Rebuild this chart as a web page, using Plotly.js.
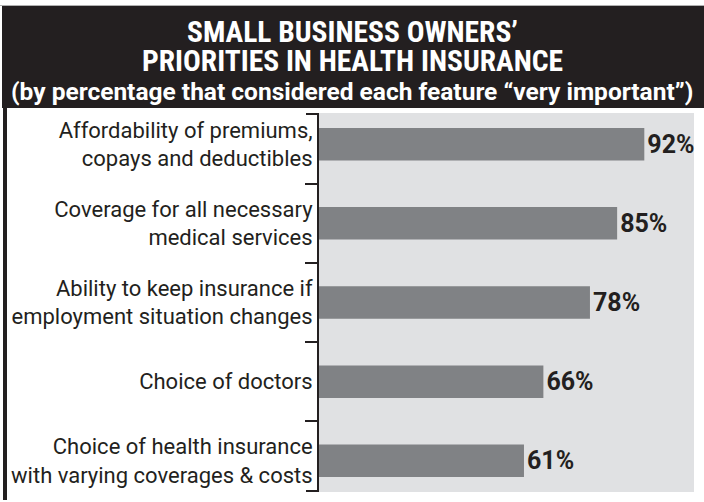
<!DOCTYPE html>
<html><head><meta charset="utf-8">
<script src="https://cdn.plot.ly/plotly-3.0.1.min.js"></script>
<style>html,body{margin:0;padding:0;background:#fff;}#chart{width:704px;height:502px;}</style>
</head><body><div id="chart"></div>
<script>
const categories = [
  "Affordability of premiums,<br>copays and deductibles",
  "Coverage for all necessary<br>medical services",
  "Ability to keep insurance if<br>employment situation changes",
  "Choice of doctors",
  "Choice of health insurance<br>with varying coverages & costs"
];
const percentages = [92, 85, 78, 66, 61];
const valueLabels = ["92%", "85%", "78%", "66%", "61%"];
const titleLines = ["SMALL BUSINESS OWNERS’", "PRIORITIES IN HEALTH INSURANCE"];
const subtitle = "(by percentage that considered each feature “very important”)";

const W = 704, H = 502, L = 319, R = 10, T = 113, B = 10;
const pw = W - L - R, ph = H - T - B;
const px = x => (x - L) / pw;
const py = y => (H - B - y) / ph;
const DARK = "#231f20";
const condensed = "Roboto Condensed, Roboto, sans-serif";
const body = "Roboto, Open Sans, sans-serif";

const trace = {
  type: "bar",
  orientation: "h",
  y: categories,
  x: percentages,
  text: valueLabels,
  textposition: "outside",
  textfont: {family: body, size: 25, color: DARK, weight: 700},
  cliponaxis: false,
  marker: {color: "#808285"},
  width: 0.41,
  hoverinfo: "skip"
};

const layout = {
  width: W, height: H,
  margin: {l: L, r: R, t: T, b: B, pad: 0},
  paper_bgcolor: "#ffffff",
  plot_bgcolor: "#e0e1e3",
  showlegend: false,
  xaxis: {range: [8.2, 104.8], visible: false, fixedrange: true},
  yaxis: {
    type: "category",
    range: [4.394, -0.394],
    showline: true, linecolor: DARK, linewidth: 2,
    ticks: "outside", tickson: "boundaries", ticklen: 12, tickwidth: 2, tickcolor: DARK,
    tickfont: {family: body, size: 22, color: DARK},
    showgrid: false, zeroline: false, fixedrange: true
  },
  shapes: [
    {type: "line", xref: "paper", yref: "paper", x0: px(0), x1: px(704), y0: py(5.5), y1: py(5.5),
     line: {width: 1, color: "#b0b0b0"}},
    {type: "rect", xref: "paper", yref: "paper", x0: px(2), x1: px(704), y0: py(108), y1: py(6),
     fillcolor: DARK, line: {width: 0}, layer: "above"},
    {type: "line", xref: "paper", yref: "paper", x0: px(5), x1: px(5), y0: py(107), y1: py(500),
     line: {width: 4, color: DARK}, layer: "above"},
    {type: "line", xref: "paper", yref: "paper", x0: px(306), x1: px(319), y0: 1 - 1 / ph, y1: 1 - 1 / ph,
     line: {width: 2, color: DARK}},
    {type: "line", xref: "paper", yref: "paper", x0: px(306), x1: px(319), y0: 1 / ph, y1: 1 / ph,
     line: {width: 2, color: DARK}}
  ],
  annotations: [
    {text: titleLines[0], xref: "paper", yref: "paper", x: px(352), y: py(32), xanchor: "center", yanchor: "middle",
     showarrow: false, font: {family: condensed, size: 29.5, color: "#ffffff", weight: 700}},
    {text: titleLines[1], xref: "paper", yref: "paper", x: px(352), y: py(61), xanchor: "center", yanchor: "middle",
     showarrow: false, font: {family: condensed, size: 29.5, color: "#ffffff", weight: 700}},
    {text: subtitle, xref: "paper", yref: "paper", x: px(352), y: py(91), xanchor: "center", yanchor: "middle",
     showarrow: false, font: {family: body, size: 24.5, color: "#ffffff", weight: 700}}
  ]
};

Plotly.newPlot("chart", [trace], layout, {displayModeBar: false, staticPlot: true});
</script>
</body></html>
